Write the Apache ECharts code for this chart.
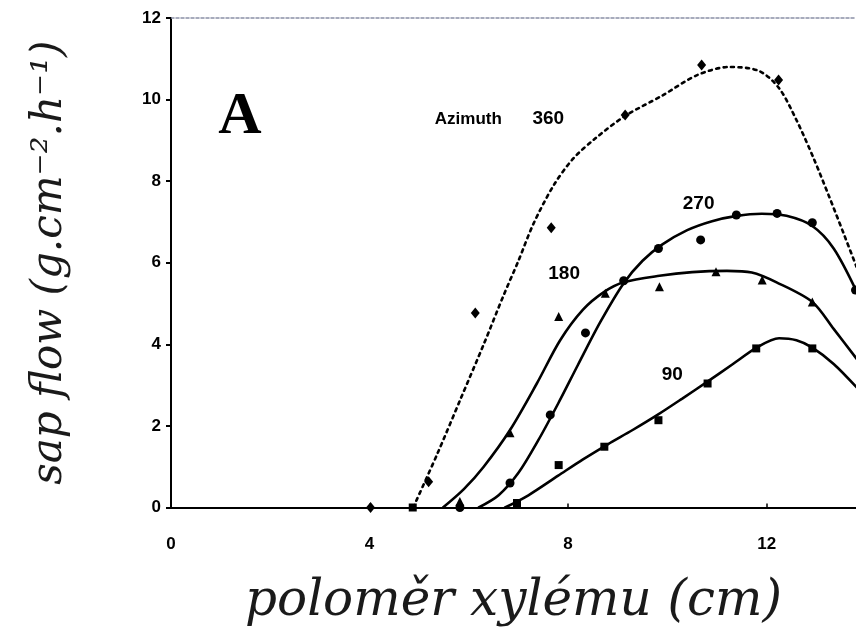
<!DOCTYPE html>
<html><head><meta charset="utf-8">
<script src="https://cdn.jsdelivr.net/npm/echarts@6/dist/echarts.min.js"></script>
<style>html,body{margin:0;padding:0;background:#fff}#c{width:856px;height:644px}</style>
</head><body><div id="c"></div>
<script>
// ---- measured markers (x = xylem radius cm, y = sap flow) ----
const pts360 = [[4.02,0],[5.19,0.63],[6.13,4.77],[7.66,6.86],[9.15,9.62],[10.69,10.85],[12.24,10.48]];
const pts270 = [[5.82,0],[6.83,0.6],[7.64,2.27],[8.35,4.28],[9.12,5.56],[9.82,6.35],[10.67,6.56],[11.39,7.17],[12.21,7.21],[12.92,6.98],[13.79,5.33]];
const pts180 = [[5.82,0.15],[6.83,1.83],[7.81,4.68],[8.75,5.25],[9.84,5.41],[10.98,5.78],[11.91,5.58],[12.92,5.04]];
const pts90  = [[4.87,0],[6.97,0.11],[7.81,1.04],[8.73,1.49],[9.82,2.14],[10.81,3.04],[11.79,3.90],[12.92,3.90]];

// ---- fitted curves ----
const curve360 = [[4.88,0],[5.36,1.3],[5.83,2.65],[6.3,4.0],[6.7,5.2],[7.0,6.05],[7.3,6.95],[7.71,7.9],[8.1,8.55],[8.55,9.05],[9.15,9.6],[9.9,10.1],[10.6,10.6],[11.25,10.8],[11.85,10.7],[12.25,10.28],[12.6,9.5],[12.95,8.55],[13.25,7.65],[13.55,6.72],[13.81,5.9]];
const curve270 = [[6.2,0],[6.6,0.3],[7.0,0.85],[7.4,1.65],[7.8,2.55],[8.2,3.5],[8.65,4.55],[9.12,5.5],[9.5,6.05],[9.9,6.45],[10.4,6.8],[10.9,7.02],[11.4,7.15],[11.9,7.2],[12.4,7.15],[12.92,6.9],[13.35,6.35],[13.81,5.3]];
const curve180 = [[5.48,0],[5.9,0.45],[6.3,1.0],[6.83,1.9],[7.37,3.04],[7.84,4.1],[8.3,4.85],[8.72,5.28],[9.12,5.52],[9.84,5.68],[10.5,5.77],[11.2,5.8],[11.7,5.76],[12.2,5.52],[12.92,5.04],[13.35,4.38],[13.81,3.65]];
const curve90  = [[6.73,0],[7.2,0.3],[7.8,0.78],[8.3,1.18],[8.8,1.55],[9.3,1.9],[9.8,2.27],[10.3,2.67],[10.8,3.08],[11.3,3.5],[11.8,3.92],[12.25,4.15],[12.6,4.1],[12.92,3.92],[13.35,3.52],[13.81,2.95]];

// ---- axes ----
const xTickInterval = 4;
const yTickInterval = 2;
const xAxisTitle = 'poloměr xylému (cm)';
const yAxisTitle = 'sap flow (g.cm⁻².h⁻¹)';

// ---- in-plot annotations (text + data position) ----
const annoText = ['A','Azimuth','360','270','180','90'];
const annoPos  = [[1.39,9.55],[5.99,9.52],[7.60,9.52],[10.63,7.44],[7.92,5.72],[10.10,3.25]];

const annoStyle = [
  {fontFamily:'Liberation Serif', fontWeight:'bold', fontSize:60},
  {fontFamily:'Liberation Sans', fontWeight:'bold', fontSize:17},
  {fontFamily:'Liberation Sans', fontWeight:'bold', fontSize:19},
  {fontFamily:'Liberation Sans', fontWeight:'bold', fontSize:19},
  {fontFamily:'Liberation Sans', fontWeight:'bold', fontSize:19},
  {fontFamily:'Liberation Sans', fontWeight:'bold', fontSize:19}
];

const chart = echarts.init(document.getElementById('c'), null, {renderer:'canvas'});

function lineSeries(data, dotted){
  return {type:'line', data, smooth:0.3, symbol:'none', silent:true, z:2,
    lineStyle:{color:'#000', width:2.6, opacity:1, type: dotted ? [3,4.5] : 'solid', cap:'round'}};
}
function markerSeries(data, symbol, size){
  return {type:'scatter', data, symbol, symbolSize:size, silent:true, z:3,
    itemStyle:{color:'#000', opacity:1}};
}

const annoSeries = annoText.map((t,i)=>({
  type:'scatter', data:[annoPos[i]], symbolSize:0, silent:true, z:4,
  itemStyle:{opacity:1},
  label:{show:true, position:'inside', formatter:t, color:'#000', opacity:1, ...annoStyle[i]}
}));

chart.setOption({
  animation:false,
  backgroundColor:'#fff',
  grid:{left:171, right:0, top:18, bottom:136.5, containLabel:false},
  xAxis:[{
    type:'value', min:0, max:13.8, interval:xTickInterval,
    name:xAxisTitle, nameLocation:'middle', nameGap:70,
    nameTextStyle:{fontFamily:'DejaVu Serif', fontStyle:'italic', fontSize:50, color:'#1a1a1a'},
    axisLine:{show:true, onZero:false, lineStyle:{color:'#000', width:2}},
    axisTick:{show:true, inside:true, length:4, lineStyle:{color:'#000', width:1.5}},
    axisLabel:{showMaxLabel:false, margin:28, color:'#000', fontFamily:'Liberation Sans', fontWeight:'bold', fontSize:17},
    splitLine:{show:false}
  },{
    type:'value', position:'top', min:0, max:13.8,
    axisLine:{show:true, onZero:false, lineStyle:{color:'#8b90a6', width:1.5, type:[3,2]}},
    axisTick:{show:false}, axisLabel:{show:false}, splitLine:{show:false}
  }],
  yAxis:{
    type:'value', min:0, max:12, interval:yTickInterval,
    name:yAxisTitle, nameLocation:'middle', nameGap:100, nameRotate:90,
    nameTextStyle:{fontFamily:'DejaVu Serif', fontStyle:'italic', fontSize:42, color:'#1a1a1a'},
    axisLine:{show:true, onZero:false, lineStyle:{color:'#000', width:2}},
    axisTick:{show:true, inside:false, length:5, lineStyle:{color:'#000', width:2}},
    axisLabel:{margin:10, color:'#000', fontFamily:'Liberation Sans', fontWeight:'bold', fontSize:17},
    splitLine:{show:false}
  },
  series:[
    lineSeries(curve360, true),
    lineSeries(curve270, false),
    lineSeries(curve180, false),
    lineSeries(curve90, false),
    markerSeries(pts360, 'diamond', [9,11]),
    markerSeries(pts270, 'circle', 9),
    markerSeries(pts180, 'triangle', 9),
    markerSeries(pts90, 'rect', 8),
    ...annoSeries
  ]
});
</script>
</body></html>
